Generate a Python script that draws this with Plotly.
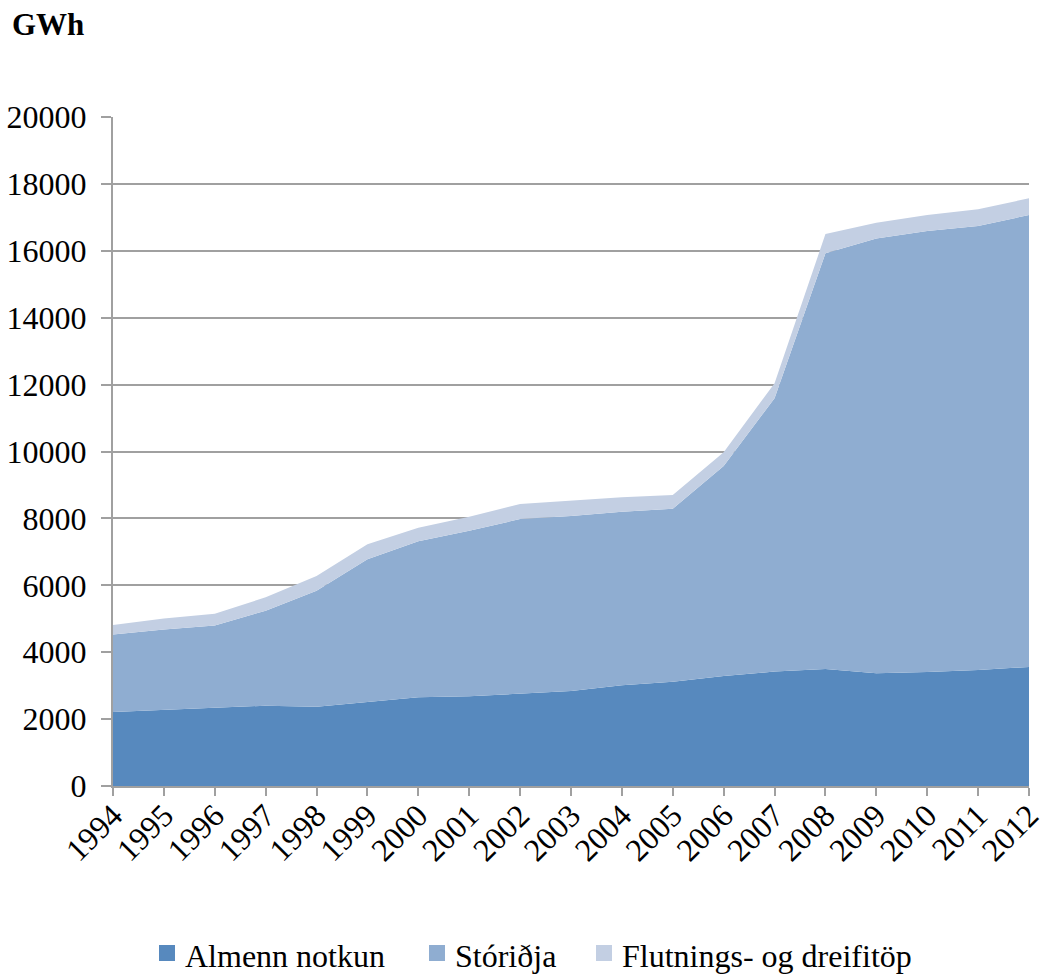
import plotly.graph_objects as go

years = list(range(1994, 2013))

# GWh per category
almenn_notkun = [2210, 2280, 2340, 2400, 2370, 2510, 2650, 2680, 2770, 2840,
                 3010, 3120, 3290, 3420, 3500, 3370, 3410, 3470, 3560]
storidja = [2320, 2400, 2460, 2840, 3470, 4270, 4670, 4950, 5210, 5230,
            5190, 5170, 6280, 8170, 12425, 13000, 13180, 13270, 13510]
flutnings = [280, 330, 350, 400, 440, 450, 400, 420, 450, 460,
             430, 410, 410, 450, 575, 470, 480, 500, 500]

series_names = ["Almenn notkun", "Stóriðja", "Flutnings- og dreifitöp"]
series_values = [almenn_notkun, storidja, flutnings]
series_colors = ["#5789BE", "#8FADD1", "#C3CFE3"]

FONT = "Liberation Serif"
FS = 32
W, H = 1041, 974
ML, MR, MT, MB = 113, 12, 117, 188
PW, PH = W - ML - MR, H - MT - MB


def px_x(px):
    return (px - ML) / PW


def px_y(py):
    return (H - MB - py) / PH


fig = go.Figure()
for name, vals, color in zip(series_names, series_values, series_colors):
    fig.add_trace(go.Scatter(
        x=years, y=vals, name=name, mode="lines",
        stackgroup="one", line=dict(width=0, color=color),
        fillcolor=color, showlegend=False,
    ))

# legend row at the bottom: small square swatch followed by the label
legend_x = [159, 429, 596]
legend_cy = 953
shapes = []
annotations = []
for name, color, lx in zip(series_names, series_colors, legend_x):
    shapes.append(dict(
        type="rect", xref="paper", yref="paper",
        x0=px_x(lx), x1=px_x(lx + 16),
        y0=px_y(legend_cy + 8), y1=px_y(legend_cy - 8),
        fillcolor=color, line=dict(width=0),
    ))
    annotations.append(dict(
        text=name, x=px_x(lx + 24), y=px_y(legend_cy + 3),
        xref="paper", yref="paper", showarrow=False,
        xanchor="left", yanchor="middle",
        font=dict(family=FONT, size=FS, color="black"),
    ))

annotations.append(dict(
    text="<b>GWh</b>", x=px_x(10), y=px_y(25),
    xref="paper", yref="paper", showarrow=False,
    font=dict(family=FONT, size=31, color="black"),
    xanchor="left", yanchor="middle",
))

fig.update_layout(
    width=W, height=H,
    margin=dict(l=ML, r=MR, t=MT, b=MB, autoexpand=False),
    paper_bgcolor="white", plot_bgcolor="white",
    font=dict(family=FONT, size=FS, color="black"),
    showlegend=False,
    xaxis=dict(
        range=[1994, 2012], tickmode="array", tickvals=years,
        ticktext=[str(y) for y in years], tickangle=-45,
        ticklabeloverflow="allow", ticklabelstandoff=-12,
        showgrid=False, showline=True, linecolor="#A0A0A0", linewidth=2,
        ticks="outside", ticklen=8, tickcolor="#A0A0A0", tickwidth=2,
        tickfont=dict(family=FONT, size=FS), zeroline=False, automargin=False,
    ),
    yaxis=dict(
        range=[0, 20000], tickmode="array",
        tickvals=list(range(0, 20001, 2000)),
        ticktext=[str(v) for v in range(0, 20001, 2000)],
        showgrid=True, gridcolor="#A0A0A0", gridwidth=1.5,
        showline=True, linecolor="#A0A0A0", linewidth=2,
        ticks="outside", ticklen=10, tickcolor="#A0A0A0", tickwidth=2,
        ticklabelstandoff=8,
        tickfont=dict(family=FONT, size=FS), zeroline=False, automargin=False,
        layer="below traces",
    ),
    shapes=shapes,
    annotations=annotations,
)

fig.write_html("out.html")
